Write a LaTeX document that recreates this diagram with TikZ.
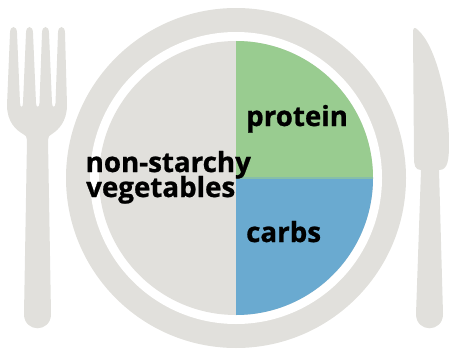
\documentclass[tikz,border=0pt]{standalone}
\usepackage{fontspec}
\setmainfont[BoldFeatures={FakeBold=0.9}]{Open Sans}
\usepackage{tikz}
\usetikzlibrary{positioning}
\definecolor{plategray}{HTML}{E1E0DC}
\definecolor{proteingreen}{HTML}{99CC90}
\definecolor{carbsblue}{HTML}{6AAAD0}
\tikzstyle{cutlery}=[fill=plategray, draw=none]

\begin{document}
\begin{tikzpicture}[x=1pt, y=-1pt,
  label/.style={inner sep=0pt, align=left, font=\fontsize{27.7}{25}\selectfont\bfseries, text=black}
]
\useasboundingbox (0,0) rectangle (449,350);

% Plate
\fill[plategray] (236,178) circle[radius=170];
\fill[white] (236,178) circle[radius=146];
\fill[plategray] (236,178) circle[radius=137];

% Quarters
\fill[proteingreen] (236,178) -- (236,41) arc[start angle=-90, end angle=0, radius=137] -- cycle;
\fill[carbsblue] (236,178) -- (373,178) arc[start angle=0, end angle=90, radius=137] -- cycle;
\draw[color=proteingreen!60!carbsblue, line width=1.2pt] (236,178) -- (373,178);

% Fork
\path[cutlery] (10,33) .. controls (10,25) and (17,25) .. (17,33)
  -- (20,103) .. controls (20,108) and (23,108) .. (23,103)
  -- (26,33) .. controls (26,25) and (33,25) .. (33,33)
  -- (36,103) .. controls (36,108) and (39.5,108) .. (39.5,103)
  -- (42,33) .. controls (42,25) and (49,25) .. (49,33)
  -- (52,103) .. controls (52,108) and (55.5,108) .. (55.5,103)
  -- (58,33) .. controls (58,25) and (65,25) .. (65,33)
  -- (67,105) .. controls (67,122) and (58,130) .. (52,134)
  .. controls (49,136) and (48,137) .. (48,140)
  -- (51,314) .. controls (51,333) and (24,333) .. (24,314)
  -- (27,140) .. controls (27,137) and (26,136) .. (23,134)
  .. controls (16,130) and (7,122) .. (7,105)
  -- cycle;

% Knife
\path[cutlery] (413,32) .. controls (413,27) and (415,27) .. (418,30)
  .. controls (436,46) and (449,100) .. (449,143)
  .. controls (449,160) and (448,170) .. (439,170)
  -- (443,314) .. controls (443,333) and (416,333) .. (416,314)
  -- (421,170) .. controls (415,170) and (414,165) .. (414,158)
  -- cycle;

% Labels
\node[label, anchor=base west] (protein) at (246,126) {protein};
\node[label, anchor=base west] (carbs) at (246,242) {carbs};
\node[label, anchor=base west] (nonstarchy) at (85.5,172) {non-starchy};
\node[label, anchor=base west] (vegetables) at (86,197) {vegetables};
\end{tikzpicture}
\end{document}
